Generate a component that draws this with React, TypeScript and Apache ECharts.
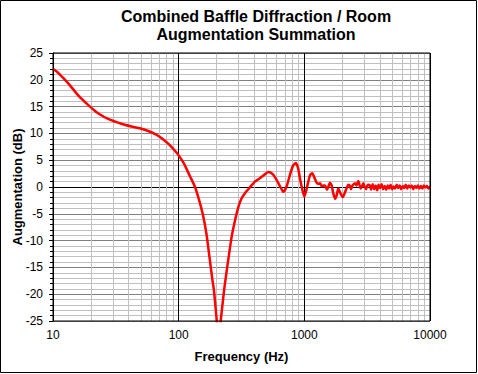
import React, { useEffect, useRef } from "react";
import * as echarts from "echarts";

const TITLE = "Combined Baffle Diffraction / Room\nAugmentation Summation";
const X_NAME = "Frequency (Hz)";
const Y_NAME = "Augmentation (dB)";

// Frequency (Hz)
const freqs: number[] = [
  10, 11, 12, 13.6, 16, 19.7, 23, 28, 35, 42, 49, 58, 67, 75, 85, 93, 100, 110, 123, 135,
  146, 157, 167, 177, 186, 191, 201, 208, 216, 230, 248, 264, 281, 298, 317, 338, 358, 380,
  404, 435, 470, 517, 560, 603, 645, 681, 720, 769, 810, 853, 890, 923, 960, 1000, 1040,
  1075, 1110, 1157, 1200, 1253, 1300, 1340, 1375, 1420, 1459, 1514, 1560, 1600, 1650, 1700,
  1760, 1810, 1862, 1940, 2018, 2090, 2172, 2240, 2307, 2350, 2420, 2531, 2600, 2686, 2750,
  2810, 2880, 2946, 3020, 3100, 3200, 3327, 3400, 3500, 3600, 3700, 3800, 3900, 4000, 4120,
  4240, 4360, 4480, 4600, 4730, 4860, 5000, 5140, 5280, 5430, 5580, 5740, 5900, 6070, 6240,
  6410, 6590, 6780, 6970, 7160, 7360, 7570, 7780, 8000, 8230, 8460, 8700, 8940, 9190, 9450,
  9720, 10000,
];

// Summed response (dB)
const gainDb: number[] = [
  22.0, 21.3, 20.4, 19.0, 17.0, 15.0, 13.7, 12.6, 11.8, 11.3, 10.95, 10.4, 9.7, 8.9, 7.8, 6.8,
  5.9, 4.4, 2.0, 0.0, -2.6, -5.5, -9.0, -13.6, -17.5, -19.3, -25.0, -28.0, -25.0, -19.2, -13.6,
  -9.3, -6.2, -3.8, -2.1, -1.1, -0.43, 0.3, 1.0, 1.5, 2.1, 2.8, 2.4, 1.3, 0.0, -0.9, 0.0, 2.3,
  3.9, 4.5, 3.6, 1.6, -0.3, -1.8, -0.5, 1.0, 2.2, 2.55, 1.8, 0.8, 0.6, 0.7, 0.1, 0.3, 0.3,
  -0.5, 0.2, 0.8, 0.3, -1.2, -2.2, -1.5, -0.3, -1.2, -1.9, -1.2, -0.2, 0.4, 0.2, -0.4, 0.3,
  0.7, 0.3, 1.1, 0.4, -0.3, 0.2, 0.7, 0.1, -0.4, 0.4, 0.3, -0.5, 0.5, -0.4, 0.3, -0.6, 0.4,
  -0.2, 0.5, -0.4, 0.2, -0.5, 0.3, -0.3, 0.4, -0.4, 0.1, -0.3, 0.4, -0.2, 0.3, -0.4, 0.2,
  -0.2, 0.4, -0.3, 0.3, -0.1, 0.3, -0.4, 0.2, -0.2, 0.3, -0.3, 0.2, -0.3, 0.3, -0.1, 0.2,
  -0.3, 0.1,
];

// Minor vertical grid lines (Hz)
const minorFreqs: number[] = [
  20, 30, 40, 50, 60, 70, 80, 90, 200, 300, 400, 500, 600, 700, 800, 900, 2000, 3000, 4000,
  5000, 6000, 7000, 8000, 9000,
];

// Y tick labels are -25..25 step 5
const Y_MIN = -25;
const Y_MAX = 25;
const Y_STEP = 5;

const FONT = "'Liberation Sans', Arial, sans-serif";

export default function App() {
  const ref = useRef<HTMLDivElement>(null);

  useEffect(() => {
    document.body.style.margin = "0";
    if (!ref.current) return;
    const chart = echarts.init(ref.current, undefined, { renderer: "svg" });

    const ySplitColors: string[] = [];
    for (let v = Y_MIN; v <= Y_MAX; v += Y_STEP) {
      ySplitColors.push(v === 0 ? "#000000" : "#808080");
    }

    chart.setOption({
      animation: false,
      backgroundColor: "#ffffff",
      textStyle: { fontFamily: FONT },
      title: {
        text: TITLE,
        left: 256,
        top: 7,
        padding: 0,
        textAlign: "center",
        textStyle: {
          fontFamily: FONT,
          fontSize: 16,
          fontWeight: "bold",
          color: "#000",
          lineHeight: 18,
        },
      },
      graphic: [
        {
          type: "rect",
          shape: { x: 0.5, y: 0.5, width: 476, height: 372 },
          style: { fill: "none", stroke: "#000", lineWidth: 1 },
          silent: true,
          z: 100,
        },
      ],
      grid: {
        left: 53,
        right: 48,
        top: 53,
        bottom: 53,
        show: true,
        borderColor: "#000",
        borderWidth: 1,
        backgroundColor: "transparent",
        containLabel: false,
        outerBoundsMode: "none",
        z: 20,
      },
      xAxis: {
        type: "log",
        logBase: 10,
        min: 10,
        max: 10000,
        name: X_NAME,
        nameLocation: "middle",
        nameGap: 29,
        nameMoveOverlap: false,
        nameTextStyle: { fontFamily: FONT, fontSize: 13, fontWeight: "bold", color: "#000" },
        axisLine: { show: true, lineStyle: { color: "#000", width: 1 } },
        axisTick: { show: false },
        axisLabel: {
          fontFamily: FONT,
          fontSize: 12,
          color: "#000",
          margin: 8,
          formatter: (v: number) => String(Math.round(v)),
        },
        splitLine: { show: true, lineStyle: { color: "#000", width: 1 } },
      },
      yAxis: {
        type: "value",
        min: Y_MIN,
        max: Y_MAX,
        interval: Y_STEP,
        name: Y_NAME,
        nameLocation: "middle",
        nameGap: 29,
        nameMoveOverlap: false,
        nameTextStyle: { fontFamily: FONT, fontSize: 13, fontWeight: "bold", color: "#000" },
        axisLine: { show: true, lineStyle: { color: "#000", width: 1 } },
        axisTick: { show: true, inside: false, length: 4, lineStyle: { color: "#000" } },
        minorTick: { show: true, splitNumber: 5, length: 3, lineStyle: { color: "#000" } },
        axisLabel: { fontFamily: FONT, fontSize: 12, color: "#000", margin: 10 },
        splitLine: { show: true, lineStyle: { color: ySplitColors, width: 1 } },
        minorSplitLine: { show: true, lineStyle: { color: "#c0c0c0", width: 1 } },
      },
      series: [
        {
          type: "line",
          data: freqs.map((f, i) => [f, gainDb[i]]),
          showSymbol: false,
          symbol: "none",
          smooth: 0.2,
          clip: true,
          z: 10,
          lineStyle: { color: "#ff0000", width: 2.5 },
          markLine: {
            silent: true,
            symbol: "none",
            z: 1,
            label: { show: false },
            lineStyle: { color: "#c0c0c0", width: 1, type: "solid" },
            data: minorFreqs.map((f) => ({ xAxis: f })),
          },
        },
      ],
    });

    return () => chart.dispose();
  }, []);

  return <div ref={ref} style={{ width: 478, height: 374 }} />;
}
